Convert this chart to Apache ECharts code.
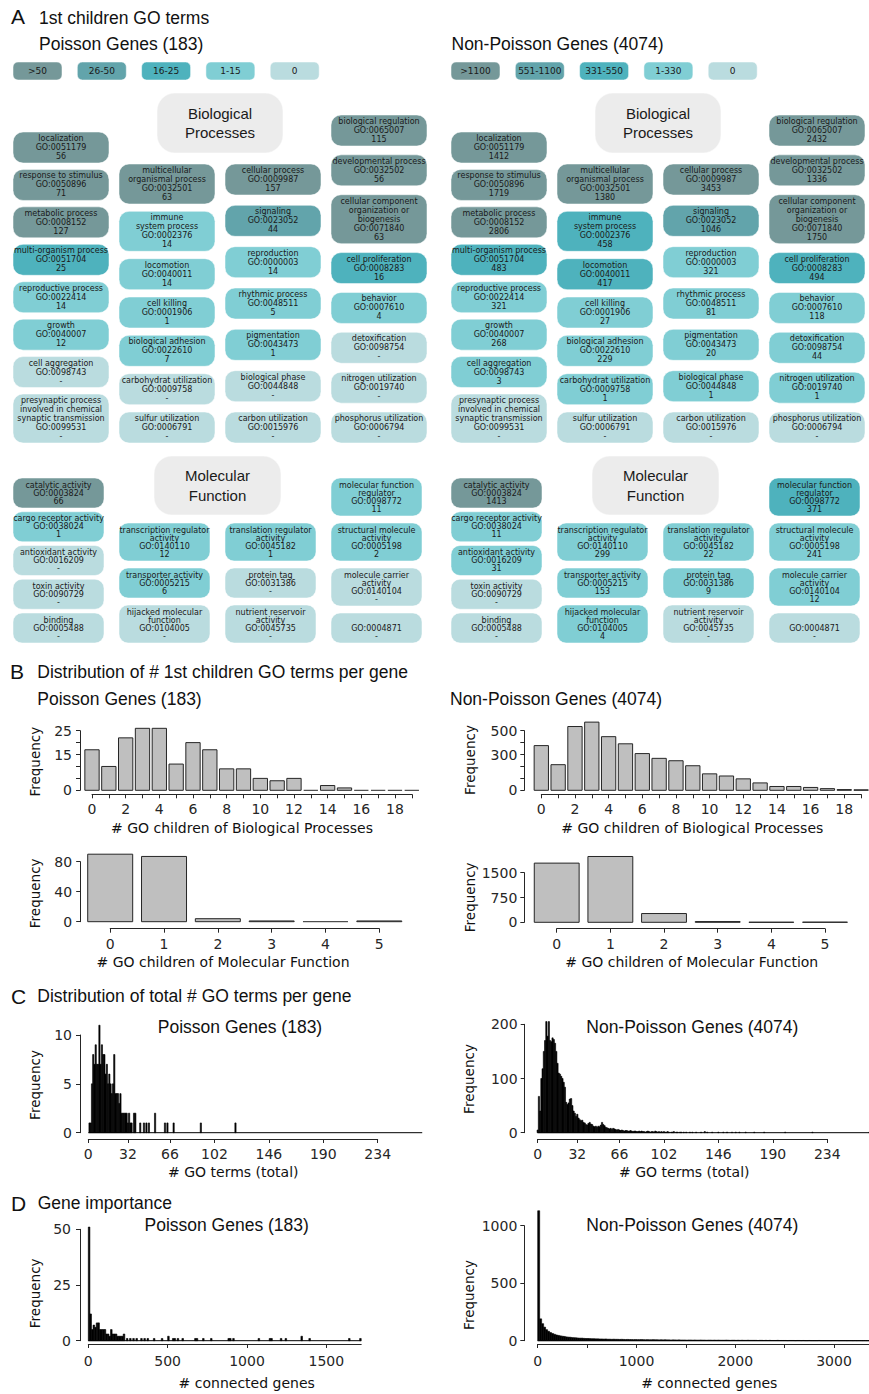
<!DOCTYPE html>
<html><head><meta charset="utf-8">
<script src="https://cdn.jsdelivr.net/npm/echarts@6.0.0/dist/echarts.min.js"></script>
<style>html,body{margin:0;padding:0;background:#fff}#c{width:869px;height:1394px}</style>
</head><body><div id="c"></div><script>
// ================= DATA =================
// Panel A : 1st children GO terms
const bpTerms = ['localization','response to stimulus','metabolic process','multi-organism process','reproductive process','growth','cell aggregation','presynaptic process\ninvolved in chemical\nsynaptic transmission',
 'multicellular\norganismal process','immune\nsystem process','locomotion','cell killing','biological adhesion','carbohydrat utilization','sulfur utilization',
 'cellular process','signaling','reproduction','rhythmic process','pigmentation','biological phase','carbon utilization',
 'biological regulation','developmental process','cellular component\norganization or\nbiogenesis','cell proliferation','behavior','detoxification','nitrogen utilization','phosphorus utilization'];
const bpIds = ['GO:0051179','GO:0050896','GO:0008152','GO:0051704','GO:0022414','GO:0040007','GO:0098743','GO:0099531',
 'GO:0032501','GO:0002376','GO:0040011','GO:0001906','GO:0022610','GO:0009758','GO:0006791',
 'GO:0009987','GO:0023052','GO:0000003','GO:0048511','GO:0043473','GO:0044848','GO:0015976',
 'GO:0065007','GO:0032502','GO:0071840','GO:0008283','GO:0007610','GO:0098754','GO:0019740','GO:0006794'];
const bpColumn = [0,0,0,0,0,0,0,0, 1,1,1,1,1,1,1, 2,2,2,2,2,2,2, 3,3,3,3,3,3,3,3];
const bpPoissonCounts = [56,71,127,25,14,12,0,0, 63,14,14,1,7,0,0, 157,44,14,5,1,0,0, 115,56,63,16,4,0,0,0];
const bpNonPoissonCounts = [1412,1719,2806,483,321,268,3,0, 1380,458,417,27,229,1,0, 3453,1046,321,81,20,1,0, 2432,1336,1750,494,118,44,1,0];

const mfTerms = ['catalytic activity','cargo receptor activity','antioxidant activity','toxin activity','binding',
 'transcription regulator\nactivity','transporter activity','hijacked molecular\nfunction',
 'translation regulator\nactivity','protein tag','nutrient reservoir\nactivity',
 'molecular function\nregulator','structural molecule\nactivity','molecule carrier\nactivity',''];
const mfIds = ['GO:0003824','GO:0038024','GO:0016209','GO:0090729','GO:0005488',
 'GO:0140110','GO:0005215','GO:0104005',
 'GO:0045182','GO:0031386','GO:0045735',
 'GO:0098772','GO:0005198','GO:0140104','GO:0004871'];
const mfColumn = [0,0,0,0,0, 1,1,1, 2,2,2, 3,3,3,3];
const mfPoissonCounts = [66,1,0,0,0, 12,6,0, 1,0,0, 11,2,0,0];
const mfNonPoissonCounts = [1413,11,31,0,0, 299,153,4, 22,9,0, 371,241,12,0];

const poissonLegendLabels = ['>50','26-50','16-25','1-15','0'];
const nonPoissonLegendLabels = ['>1100','551-1100','331-550','1-330','0'];
const poissonBreaks = [50,25,15,0];
const nonPoissonBreaks = [1100,550,330,0];

// Panel B : # 1st children per gene
const bpChildBins = [0,1,2,3,4,5,6,7,8,9,10,11,12,13,14,15,16,17,18,19];
const bpChildPoisson = [17,10,22,26,26,11,20,17,9,9,5,4,5,0,2,1,0,0,0,0];
const bpChildNonPoisson = [375,215,535,572,450,390,308,268,248,206,138,120,96,62,32,32,24,14,6,4];
const mfChildBins = [0,1,2,3,4,5];
const mfChildPoisson = [90,87,4,1,0,1];
const mfChildNonPoisson = [1790,1990,265,22,2,5];
const bpChildXTicks = [0,1,2,3,4,5,6,7,8,9,10,11,12,13,14,15,16,17,18,19];
const bpChildXLabels = [0,2,4,6,8,10,12,14,16,18];
const mfChildXTicks = [0,1,2,3,4,5];
const bpPoissonYTicks = [0,5,10,15,20,25], bpPoissonYLabels = [0,15,25];
const bpNonPoissonYTicks = [0,100,200,300,400,500], bpNonPoissonYLabels = [0,300,500];
const mfPoissonYTicks = [0,40,80];
const mfNonPoissonYTicks = [0,750,1500];

// Panel C : total # GO terms per gene (bin width 1)
const totalPoissonX = [1,2,3,4,5,6,7,8,9,10,11,12,13,14,15,16,17,18,19,20,21,22,23,24,25,26,27,28,29,30,31,32,33,34,35,37,38,42,45,47,49,54,62,64,69,91,119];
const totalPoissonY = [1,1,5,8,7,9,7,7,11,7,9,8,8,6,7,5,6,5,4,5,8,4,4,4,3,4,2,2,2,2,2,1,2,1,1,2,2,1,1,1,1,2,1,1,1,1,1];
const totalNonPoissonX = [0,1,2,3,4,5,6,7,8,9,10,11,12,13,14,15,16,17,18,19,20,21,22,23,24,25,26,27,28,29,30,31,32,33,34,35,36,37,38,39,40,41,42,43,44,45,46,47,48,49,50,51,52,53,54,55,56,57,58,59,60,61,62,63,64,65,66,67,68,69,70,71,72,73,74,75,76,77,78,79,80,
 81,82,83,84,85,86,87,88,89,90,91,92,93,94,95,96,97,98,99,100,101,102,103,104,105,106,108,109,110,112,113,115,116,118,120,
 123,125,128,132,135,137,141,146,150,153,157,160,163,168,175,183,200,222,268];
const totalNonPoissonY = [5,67,40,100,118,150,170,205,178,205,170,168,175,172,165,150,128,110,108,104,100,93,84,56,52,55,62,63,50,40,36,30,34,27,24,22,23,19,18,15,14,17,19,16,15,12,11,12,10,12,11,14,19,15,13,10,9,8,7,8,6,8,7,6,5,6,5,4,5,4,3,4,4,3,3,4,3,2,3,3,2,
 2,3,2,3,2,2,1,2,3,2,1,2,2,1,3,2,1,2,1,2,1,2,1,1,2,1,1,1,2,1,1,1,1,1,1,
 1,1,1,1,2,1,1,1,1,1,1,1,1,1,1,1,1,1,1];
const totalRangeMax = 270;
const totalXTicks = [0,32,66,102,146,190,234];
const totalPoissonYTicks = [0,5,10];
const totalNonPoissonYTicks = [0,100,200];

// Panel D : gene importance (# connected genes)
const connPoissonBinWidth = 10;
const connPoissonX = [0,10,20,30,40,50,60,70,80,90,100,110,120,130,140,150,160,170,180,190,200,210,220,240,260,280,300,330,350,370,410,460,500,530,540,560,590,670,680,720,770,880,890,910,1070,1140,1150,1210,1240,1340,1390,1640,1710];
const connPoissonY = [51,12,5,7,6,8,8,5,5,5,5,3,3,2,5,3,3,3,2,2,2,2,3,1,1,1,1,1,1,1,1,1,2,1,1,1,1,1,1,1,1,1,1,1,1,1,1,1,1,2,1,1,1];
const connNonPoissonBinWidth = 20;
const connNonPoissonY = [1130,190,148,118,96,82,71,63,56,50,
 46,42,39,37,33,31,30,27,26,25, 23,22,22,20,19,19,18,17,17,16,
 16,15,15,14,15,13,13,12,13,12, 12,11,12,11,10,11,10,10,9,10,
 9,9,10,9,8,9,8,8,9,8, 8,7,8,7,8,7,7,6,7,7,
 6,7,6,6,6,5,6,6,5,6, 5,5,6,5,5,4,5,5,4,5,
 4,5,4,4,4,5,4,3,4,4, 3,4,3,4,3,3,4,3,3,3,
 3,2,3,3,2,3,2,3,2,2, 2,3,2,2,2,2,1,2,2,2,
 1,2,2,1,2,1,1,2,1,1, 1,1,2,1,1,1,1,1,0,1,
 1,1,0,1,1,1,0,1,1,0, 1,0,1,1,0,1,0,1];
const connPoissonXTicks = [0,500,1000,1500];
const connNonPoissonXTicks = [0,500,1000,1500,2000,2500,3000];
const connNonPoissonXLabels = [0,1000,2000,3000];
const connPoissonYTicks = [0,25,50];
const connNonPoissonYTicks = [0,500,1000];

// ================= STYLE / LAYOUT =================
const SANS = '"Liberation Sans", Arial, sans-serif';
const DJ = '"DejaVu Sans", sans-serif';
const INK = '#262626';
const boxColors = ['#759899','#62a4ab','#4eb2bd','#80ced4','#badcdf'];
const headerColor = '#ececec';
function colorFor(v, breaks){ for (let i=0;i<breaks.length;i++) if (v>breaks[i]) return boxColors[i]; return boxColors[4]; }

const boxes = [];
function addBox(x,y,w,h,r,fill,text,font,lh){ boxes.push({x,y,w,h,r,fill,text,font,lh}); }
const bpLayout = {colX:[13,119,225,331], w:96, top:[132,164,164,115], bottom:443, lineH:9, pad:4, r:10};
const mfLayout = {colX:[13,119,225,331], w:91, top:[478,523,523,478], bottom:643, lineH:8, pad:6, r:9};
function buildSection(terms, ids, cols, counts, breaks, L, dx){
  for (let c=0;c<4;c++){
    const idx = cols.map((cc,i)=>cc===c?i:-1).filter(i=>i>=0);
    const txt = idx.map(i => terms[i] + '\n' + ids[i] + '\n' + (counts[i]>0?counts[i]:'-'));
    const hs = txt.map(t => t.split('\n').length*L.lineH + L.pad);
    const total = hs.reduce((a,b)=>a+b,0);
    const gap = (L.bottom - L.top[c] - total)/(idx.length-1);
    let y = L.top[c];
    idx.forEach((i,k)=>{ addBox(L.colX[c]+dx, y, L.w, hs[k], L.r, colorFor(counts[i],breaks), txt[k], '8px '+DJ, L.lineH); y += hs[k]+gap; });
  }
}
const sides = [
  {dx:0, bp:bpPoissonCounts, mf:mfPoissonCounts, br:poissonBreaks, lg:poissonLegendLabels},
  {dx:438, bp:bpNonPoissonCounts, mf:mfNonPoissonCounts, br:nonPoissonBreaks, lg:nonPoissonLegendLabels}
];
sides.forEach(s=>{
  s.lg.forEach((lab,i)=> addBox(13+s.dx+i*64.3, 62, 49, 18, 5, boxColors[i], lab, '9px '+DJ, 11));
  addBox(157+s.dx, 93, 126, 60, 18, headerColor, 'Biological\nProcesses', '15px '+SANS, 19);
  addBox(154+s.dx, 456, 127, 59, 18, headerColor, 'Molecular\nFunction', '15px '+SANS, 19.5);
  buildSection(bpTerms, bpIds, bpColumn, s.bp, s.br, bpLayout, s.dx);
  buildSection(mfTerms, mfIds, mfColumn, s.mf, s.br, mfLayout, s.dx);
});

function boxRender(params, api){
  const b = boxes[params.dataIndex];
  const p0 = api.coord([b.x, b.y]), p1 = api.coord([b.x+b.w, b.y+b.h]);
  return {type:'group', children:[
    {type:'rect', shape:{x:p0[0], y:p0[1], width:p1[0]-p0[0], height:p1[1]-p0[1], r:b.r}, style:{fill:b.fill, stroke:'rgba(255,255,255,0.5)', lineWidth:1}},
    {type:'text', x:(p0[0]+p1[0])/2, y:(p0[1]+p1[1])/2, style:{text:b.text, font:b.font, fill:'#1a1a1a', textAlign:'center', textVerticalAlign:'middle', lineHeight:b.lh}}
  ]};
}

const grids = [{left:0, top:0, width:869, height:1394, outerBoundsMode:'none', containLabel:false}];
const xAxes = [{type:'value', gridIndex:0, min:0, max:869, show:false}];
const yAxes = [{type:'value', gridIndex:0, min:0, max:1394, inverse:true, show:false}];
const series = [{type:'custom', xAxisIndex:0, yAxisIndex:0, silent:true, clip:false,
  data: boxes.map(b=>[b.x, b.y]), encode:{x:0, y:1}, renderItem: boxRender}];

function barRender(fill, stroke, lw){
  return function(params, api){
    const x0 = api.value(0), x1 = api.value(1), v = api.value(2);
    const p0 = api.coord([x0, 0]), p1 = api.coord([x1, v]);
    if (!v) return {type:'line', shape:{x1:p0[0], y1:p0[1], x2:p1[0], y2:p0[1]}, style:{stroke:stroke, lineWidth:1}};
    return {type:'rect', shape:{x:p0[0], y:p1[1], width:p1[0]-p0[0], height:p0[1]-p1[1]}, style:{fill:fill, stroke:stroke, lineWidth:lw}};
  };
}
function axisCfg(pos, gi, a){
  return {type:'value', gridIndex:gi, position:pos, min:a.min, max:a.max, offset:a.offset,
    axisLine:{show:true, onZero:false, lineStyle:{color:INK, width:1}},
    axisTick:{show:true, inside:false, length:4, customValues:a.ticks, lineStyle:{color:INK, width:1}},
    axisLabel:{show:true, customValues:a.labels||a.ticks, margin:a.margin, fontSize:14, fontFamily:DJ, color:INK,
      hideOverlap:false, showMinLabel:true, showMaxLabel:true, formatter:function(v){ return String(v); }},
    splitLine:{show:false}, splitArea:{show:false}};
}
function addHist(g, xa, ya, data, fill, stroke, lw, baselineEnd){
  const gi = grids.length;
  grids.push({left:g[0], top:g[1], width:g[2], height:g[3], outerBoundsMode:'none', containLabel:false});
  xAxes.push(axisCfg('bottom', gi, xa));
  yAxes.push(axisCfg('left', gi, ya));
  if (baselineEnd != null) series.push({type:'custom', xAxisIndex:gi, yAxisIndex:gi, silent:true, clip:false,
    data:[[0, baselineEnd, 0]], encode:{x:[0,1], y:2}, renderItem:barRender('#000', '#000', 1)});
  series.push({type:'custom', xAxisIndex:gi, yAxisIndex:gi, silent:true, clip:false, data:data, encode:{x:[0,1], y:2}, renderItem:barRender(fill, stroke, lw)});
}
const GREY = '#bfbfbf';
// B
addHist([92,730.7,319.8,59.6], {min:0,max:19,ticks:bpChildXTicks,labels:bpChildXLabels,offset:4,margin:8},
  {min:0,max:25,ticks:bpPoissonYTicks,labels:bpPoissonYLabels,offset:12,margin:8},
  bpChildBins.map((b,i)=>[b-0.425,b+0.425,bpChildPoisson[i]]), GREY, INK, 1);
addHist([541.3,730.7,319.8,59.6], {min:0,max:19,ticks:bpChildXTicks,labels:bpChildXLabels,offset:4,margin:8},
  {min:0,max:500,ticks:bpNonPoissonYTicks,labels:bpNonPoissonYLabels,offset:17,margin:7},
  bpChildBins.map((b,i)=>[b-0.425,b+0.425,bpChildNonPoisson[i]]), GREY, INK, 1);
addHist([110.2,861.7,269.1,60], {min:0,max:5,ticks:mfChildXTicks,offset:7,margin:8},
  {min:0,max:80,ticks:mfPoissonYTicks,offset:30,margin:8},
  mfChildBins.map((b,i)=>[b-0.418,b+0.418,mfChildPoisson[i]]), GREY, INK, 1);
addHist([556.7,872.7,268.3,49.6], {min:0,max:5,ticks:mfChildXTicks,offset:6.4,margin:8},
  {min:0,max:1500,ticks:mfNonPoissonYTicks,offset:32.4,margin:7},
  mfChildBins.map((b,i)=>[b-0.418,b+0.418,mfChildNonPoisson[i]]), GREY, INK, 1);
// C
addHist([88.3,1035,289.4,97.7], {min:0,max:234,ticks:totalXTicks,offset:6.3,margin:8},
  {min:0,max:10,ticks:totalPoissonYTicks,offset:8.3,margin:8},
  totalPoissonX.map((v,i)=>[v-0.5,v+0.5,totalPoissonY[i]]), '#000', '#000', 0.6, totalRangeMax);
addHist([537.7,1024.3,289.6,108.4], {min:0,max:234,ticks:totalXTicks,offset:6.3,margin:8},
  {min:0,max:200,ticks:totalNonPoissonYTicks,offset:13,margin:7},
  totalNonPoissonX.map((v,i)=>[v-0.5,v+0.5,totalNonPoissonY[i]]), '#000', '#000', 0.6, totalRangeMax);
// D
const connPoissonMax = connPoissonX[connPoissonX.length-1] + connPoissonBinWidth;
const connNonPoissonMax = connNonPoissonY.length * connNonPoissonBinWidth;
addHist([88.3,1229.3,0.15867*connPoissonMax,111.4], {min:0,max:connPoissonMax,ticks:connPoissonXTicks,offset:3.3,margin:10},
  {min:0,max:50,ticks:connPoissonYTicks,offset:8.3,margin:9},
  connPoissonX.map((v,i)=>[v, v+connPoissonBinWidth, connPoissonY[i]]), '#000', '#000', 0.6, connPoissonMax);
addHist([537.7,1225.7,0.09877*connNonPoissonMax,115], {min:0,max:connNonPoissonMax,ticks:connNonPoissonXTicks,labels:connNonPoissonXLabels,offset:3.3,margin:10},
  {min:0,max:1000,ticks:connNonPoissonYTicks,offset:13.4,margin:7},
  connNonPoissonY.map((v,i)=>[i*connNonPoissonBinWidth, (i+1)*connNonPoissonBinWidth, v]), '#000', '#000', 0.6, connNonPoissonMax);

// ================= TEXT =================
function T(text, x, y, size, fam, align, rot){
  return {type:'text', x:x, y:y, rotation:rot||0, silent:true, z:10,
    style:{text:text, font:size+'px '+fam, fill:'#111', textAlign:align||'left', textVerticalAlign:'middle'}};
}
const R90 = Math.PI/2;
const texts = [
  T('A', 11, 16.5, 21, SANS), T('1st children GO terms', 39, 18, 17.5, SANS),
  T('Poisson Genes (183)', 39, 43.5, 17.5, SANS), T('Non-Poisson Genes (4074)', 451.5, 43.5, 17.5, SANS),
  T('B', 10, 671, 21, SANS), T('Distribution of # 1st children GO terms per gene', 37.3, 672.3, 17.5, SANS),
  T('Poisson Genes (183)', 37.3, 699.3, 17.5, SANS), T('Non-Poisson Genes (4074)', 450, 699.3, 17.5, SANS),
  T('C', 11, 996, 21, SANS), T('Distribution of total # GO terms per gene', 37.3, 996, 17.5, SANS),
  T('Poisson Genes (183)', 240, 1026.7, 17.5, SANS, 'center'), T('Non-Poisson Genes (4074)', 692.3, 1026.7, 17.5, SANS, 'center'),
  T('D', 11, 1203.3, 21, SANS), T('Gene importance', 37.7, 1203.3, 17.5, SANS),
  T('Poisson Genes (183)', 226.7, 1225, 17.5, SANS, 'center'), T('Non-Poisson Genes (4074)', 692.3, 1225, 17.5, SANS, 'center'),
  T('# GO children of Biological Processes', 242, 828.3, 14, DJ, 'center'),
  T('# GO children of Biological Processes', 692.3, 828.3, 14, DJ, 'center'),
  T('# GO children of Molecular Function', 223, 961.7, 14, DJ, 'center'),
  T('# GO children of Molecular Function', 691.7, 961.7, 14, DJ, 'center'),
  T('# GO terms (total)', 233.3, 1171.7, 14, DJ, 'center'),
  T('# GO terms (total)', 684.3, 1171.7, 14, DJ, 'center'),
  T('# connected genes', 246.7, 1383.3, 14, DJ, 'center'),
  T('# connected genes', 709.3, 1383.3, 14, DJ, 'center'),
  T('Frequency', 35, 761.7, 13.5, DJ, 'center', R90), T('Frequency', 470, 760, 13.5, DJ, 'center', R90),
  T('Frequency', 35, 893.3, 13.5, DJ, 'center', R90), T('Frequency', 470, 897.3, 13.5, DJ, 'center', R90),
  T('Frequency', 35, 1085, 13.5, DJ, 'center', R90), T('Frequency', 469.3, 1079, 13.5, DJ, 'center', R90),
  T('Frequency', 35, 1293.3, 13.5, DJ, 'center', R90), T('Frequency', 469.3, 1295, 13.5, DJ, 'center', R90)
];

const chart = echarts.init(document.getElementById('c'), null, {renderer:'svg', width:869, height:1394});
chart.setOption({
  animation:false, backgroundColor:'#ffffff',
  grid:grids, xAxis:xAxes, yAxis:yAxes, series:series,
  graphic:{elements:texts}
});
</script></body></html>
